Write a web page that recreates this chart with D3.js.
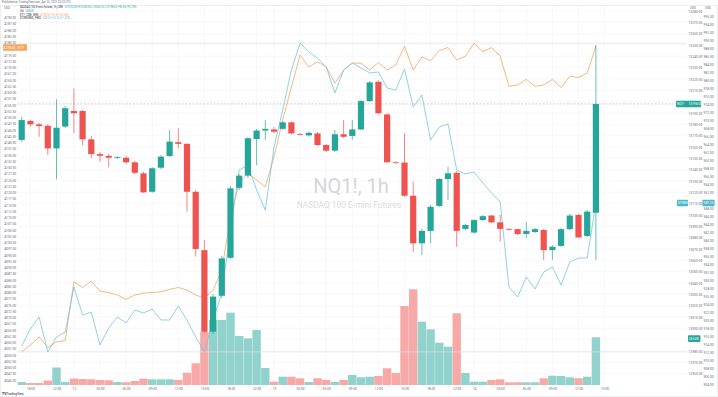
<!DOCTYPE html>
<html>
<head>
<meta charset="utf-8">
<title>NQ1!, 1h</title>
<script src="https://cdn.jsdelivr.net/npm/d3@7/dist/d3.min.js"></script>
<style>
  html, body { margin: 0; padding: 0; background: #fff; }
  svg { display: block; font-family: Roboto, "Open Sans", sans-serif; }
  .axis path { display: none; }
  .axis text { fill: #6b6e78; }
</style>
</head>
<body>
<svg id="chart" width="718" height="397"></svg>
<script>
// NQ1! hourly candles
var nqOpen = [13166.25, 13183, 13180, 13178.75, 13158.75, 13178, 13191.75, 13191.75, 13166.75, 13153.75,
    13152.25, 13150.75, 13150.5, 13146.5, 13136.75, 13120.5, 13141.75, 13152, 13164.25, 13162.75,
    13120.5, 13069, 12997, 13028.75, 13062.25, 13124, 13134.75, 13167, 13174.5, 13175.5,
    13176, 13181.75, 13171.5, 13170.25, 13172, 13161.75, 13156.75, 13171.25, 13169.75, 13175.5,
    13200.5, 13217.5, 13188.75, 13146.5, 13146.25, 13117, 13075, 13086, 13108, 13131.75,
    13137.25, 13087.75, 13084.5, 13095.5, 13099.5, 13093.5, 13087.75, 13087.5, 13083.25, 13085,
    13086.75, 13069, 13072.75, 13087.5, 13100, 13081.5, 13102];
var nqHigh = [13186.5, 13184, 13181.25, 13180.25, 13202, 13196.25, 13211.75, 13192.75, 13169.75, 13155.5,
    13153.75, 13152, 13152, 13147.75, 13138, 13142.25, 13153, 13175, 13176.5, 13163.5,
    13122, 13078, 13030.25, 13063.75, 13125.5, 13136.25, 13168.75, 13176, 13183.75, 13177.75,
    13183, 13182.5, 13172.25, 13173.75, 13173.25, 13162.75, 13175, 13183.75, 13183.75, 13201.5,
    13218.25, 13218.75, 13190, 13147.25, 13172.25, 13129.5, 13087.75, 13108.75, 13132.75, 13142.5,
    13138.75, 13092, 13096.5, 13100, 13100, 13100, 13088.5, 13088, 13094, 13088.5,
    13087.75, 13073.5, 13088.5, 13101, 13101, 13104.5, 13250];
var nqLow = [13164.5, 13177.75, 13169, 13153, 13131.5, 13176.75, 13172, 13161.75, 13150.25, 13147,
    13142, 13149.5, 13145, 13136.25, 13119.5, 13119.5, 13140.5, 13151.25, 13158.75, 13103,
    13063.25, 12996, 12995, 13026.75, 13061.25, 13122, 13132.75, 13144, 13166.25, 13172.25,
    13175, 13171, 13170.25, 13169.25, 13161, 13155.5, 13155.5, 13168, 13166.25, 13175,
    13199.75, 13189, 13146, 13145.5, 13116, 13067.5, 13064.75, 13075.25, 13107, 13113.25,
    13072, 13086.75, 13083.25, 13094.75, 13093, 13076.5, 13086.25, 13082.25, 13079.5, 13084,
    13060.25, 13060.25, 13071.75, 13086.75, 13079.75, 13080.5, 13060.25];
var nqClose = [13183.75, 13180, 13178.5, 13158.75, 13177, 13194.25, 13189.75, 13166.75, 13153.75, 13152.25,
    13150.5, 13151, 13146.5, 13137.25, 13120, 13141.25, 13151.5, 13164.75, 13162.75, 13120.5,
    13070, 12997, 13028, 13061.75, 13123.5, 13134.75, 13167.75, 13174.5, 13176, 13173.5,
    13181.75, 13172, 13171, 13172.5, 13161.75, 13156.75, 13171.25, 13169, 13175.5, 13200.5,
    13217, 13189.75, 13146.5, 13146.25, 13117, 13075, 13086, 13107.25, 13131.75, 13136.75,
    13086, 13091.25, 13095.5, 13099, 13093.5, 13087.75, 13087.5, 13083.25, 13086, 13087.5,
    13069, 13072, 13087.5, 13099.5, 13080.25, 13103, 13198];
var nqVolume = [1800, 1200, 1200, 2700, 10500, 1800, 3900, 3600, 3420, 3000,
    2820, 1800, 1620, 2400, 3780, 3420, 3420, 3420, 3000, 7380,
    13020, 31980, 39000, 39000, 43380, 29400, 28020, 33000, 10200, 1980,
    4980, 4980, 4020, 1800, 4020, 3000, 1800, 3000, 6000, 4620,
    4980, 5400, 10020, 7200, 47400, 57420, 37980, 33420, 25380, 22980,
    43020, 7200, 1980, 1980, 3000, 3420, 1620, 1620, 1620, 1620,
    4020, 5580, 5400, 4620, 4020, 4980, 28620];

// compared symbols
var esClose = [4056.25, 4059, 4062.25, 4058, 4060.25, 4060.75, 4084.25, 4082, 4084.5, 4080.5,
    4080, 4079, 4077.25, 4079, 4079.75, 4080, 4080.25, 4081.25, 4082, 4081,
    4079, 4077.75, 4081, 4089, 4110.25, 4123.75, 4127.75, 4125, 4122.25, 4134.25,
    4149, 4162.25, 4175, 4170.25, 4172.25, 4170.25, 4163.75, 4169, 4171.75, 4171.75,
    4169, 4172, 4169, 4171, 4178.5, 4169, 4174.25, 4172.75, 4176.75, 4178,
    4173, 4174.5, 4179.75, 4176.25, 4178, 4174.5, 4162.5, 4163, 4165.25, 4162.5,
    4163, 4165.25, 4162, 4166.5, 4166, 4167.75, 4178.5];
var dxClose = [913.5, 917.75, 920.75, 912, 915.75, 917, 928.25, 921.25, 922, 913.75,
    918, 920.75, 919.25, 922.5, 921.75, 922.75, 920, 920, 923.5, 920,
    915.75, 912, 920, 926.75, 942.5, 957.5, 958.75, 952.5, 947.5, 963.25,
    972.5, 982.5, 989.25, 987, 985.5, 983.25, 976.75, 982.5, 984.25, 983,
    981.75, 982, 978, 977.5, 982.75, 973.25, 976.25, 965, 968.25, 969,
    957.5, 956.5, 957, 954.25, 951.75, 949.5, 928.25, 925.75, 930.75, 927.75,
    932, 933.25, 928.75, 934.5, 935.5, 935.5, 949.25];

// time axis (bar index -> label)
var timeTickIdx = [1, 4, 6, 9, 12, 15, 18, 21, 24, 27, 29, 32, 35, 38, 41, 44, 47, 50, 52, 55, 58, 61, 64, 67];
var timeTickText = ["18:00", "22:00", "12", "03:00", "06:00", "09:00", "12:00", "15:00", "18:00", "22:00", "13",
    "03:00", "06:00", "09:00", "12:00", "15:00", "18:00", "22:00", "14", "03:00", "06:00", "09:00", "12:00", "15:00"];

// price scale ticks
var nqTicks = d3.range(12960, 13290, 10);
var esTicks = d3.range(4045, 4192.5, 2.5);
var dxTicks = d3.range(904, 998, 2);

var UP = "#26a69a", DOWN = "#ef5350";
var UP_VOL = "#92d2cc", DOWN_VOL = "#f7a9a7";
var ES_COL = "#f2a65e", DX_COL = "#74c6de", DX_TAG = "#4db6c9";

var plot = {left: 17.35, right: 687.25, top: 5.5, bottom: 385};
var svg = d3.select("#chart");

// scales
var x = d3.scaleLinear().domain([-0.5, 76.5]).range([plot.left, plot.right]);
var step = x(1) - x(0);
var yPrice = d3.scaleLinear().domain([12950, 13250]).range([385, 45]);
var yEs = d3.scaleLinear().domain([4100, 4200]).range([242.5, -7.5]);
var yDx = d3.scaleLinear().domain([900, 1000]).range([400, 0]);
var yVol = d3.scaleLinear().domain([0, 60000]).range([385, 285]);

var n = nqClose.length;
var last = n - 1;
var idx = d3.range(n);
var fmt2 = d3.format(".2f");

// where the value tags sit
var yLast = yPrice(nqClose[last]);
var yVolTag = yVol(nqVolume[last]) + 1.3;
var yEsTag = yEs(esClose[last]) + 1.3;
var yDxTag = yDx(dxClose[last]);

// frame
svg.append("rect").attr("x", 0.5).attr("y", 5.5).attr("width", 717).attr("height", 391)
    .attr("fill", "none").attr("stroke", "#e0e3eb").attr("stroke-width", 0.6);

svg.append("defs").append("clipPath").attr("id", "clip")
    .append("rect").attr("x", plot.left).attr("y", plot.top)
    .attr("width", plot.right - plot.left).attr("height", plot.bottom - plot.top);

var g = svg.append("g").attr("clip-path", "url(#clip)");

// grid
g.selectAll("line.hgrid").data(nqTicks).enter().append("line").attr("class", "hgrid")
    .attr("x1", plot.left).attr("x2", plot.right)
    .attr("y1", function(d){ return yPrice(d); }).attr("y2", function(d){ return yPrice(d); })
    .attr("stroke", "#f3f4f8").attr("stroke-width", 0.6);
g.selectAll("line.vgrid").data(timeTickIdx).enter().append("line").attr("class", "vgrid")
    .attr("x1", function(d){ return x(d); }).attr("x2", function(d){ return x(d); })
    .attr("y1", plot.top).attr("y2", plot.bottom)
    .attr("stroke", "#f3f4f8").attr("stroke-width", 0.6);

// volume bars
g.selectAll("rect.vol").data(idx).enter().append("rect").attr("class", "vol")
    .attr("x", function(i){ return x(i) - step / 2 + 0.15; })
    .attr("width", step - 0.3)
    .attr("y", function(i){ return yVol(nqVolume[i]); })
    .attr("height", function(i){ return yVol(0) - yVol(nqVolume[i]); })
    .attr("fill", function(i){ return nqClose[i] >= nqOpen[i] ? UP_VOL : DOWN_VOL; });

// high / low guides of the compared series
[d3.max(esClose), d3.min(esClose)].forEach(function(v){
    g.append("line").attr("x1", plot.left).attr("x2", plot.right)
        .attr("y1", yEs(v)).attr("y2", yEs(v))
        .attr("stroke", "#dfe1e7").attr("stroke-width", 0.7);
});

// compare lines
g.append("path").datum(esClose)
    .attr("d", d3.line().x(function(d, i){ return x(i); }).y(function(d){ return yEs(d); }))
    .attr("fill", "none").attr("stroke", ES_COL).attr("stroke-width", 0.8);
g.append("path").datum(dxClose)
    .attr("d", d3.line().x(function(d, i){ return x(i); }).y(function(d){ return yDx(d); }))
    .attr("fill", "none").attr("stroke", DX_COL).attr("stroke-width", 0.8);

// last price line
g.append("line").attr("x1", plot.left).attr("x2", plot.right)
    .attr("y1", yLast).attr("y2", yLast)
    .attr("stroke", "#a9acb5").attr("stroke-width", 0.6).attr("stroke-dasharray", "2,1.5");

// candles
var candle = g.selectAll("g.candle").data(idx).enter().append("g").attr("class", "candle");
candle.append("line")
    .attr("x1", function(i){ return x(i); }).attr("x2", function(i){ return x(i); })
    .attr("y1", function(i){ return yPrice(nqHigh[i]); })
    .attr("y2", function(i){ return yPrice(nqLow[i]); })
    .attr("stroke", function(i){ return nqClose[i] >= nqOpen[i] ? UP : DOWN; })
    .attr("stroke-width", 0.7);
candle.append("rect")
    .attr("x", function(i){ return x(i) - 3.1; }).attr("width", 6.2)
    .attr("y", function(i){ return yPrice(Math.max(nqOpen[i], nqClose[i])); })
    .attr("height", function(i){ return Math.max(0.8, Math.abs(yPrice(nqOpen[i]) - yPrice(nqClose[i]))); })
    .attr("fill", function(i){ return nqClose[i] >= nqOpen[i] ? UP : DOWN; });

// watermark
svg.append("text").attr("x", 351).attr("y", 193).attr("text-anchor", "middle")
    .attr("font-size", 20).attr("fill", "#d5d6da").text("NQ1!, 1h");
svg.append("text").attr("x", 349).attr("y", 208).attr("text-anchor", "middle")
    .attr("font-size", 8.4).attr("fill", "#dbdcdf").text("NASDAQ 100 E-mini Futures");

// axes (labels under a value tag are hidden, like the original)
function clear(scale, ys) {
    return function(t){
        return ys.every(function(y){ return Math.abs(scale(t) - y) > 4.2; });
    };
}
function styleAxis(sel) {
    sel.attr("font-size", 3.3).attr("font-family", null);
}
svg.append("g").attr("class", "axis").attr("transform", "translate(16.2,0)")
    .call(d3.axisLeft(yEs).tickValues(esTicks.filter(clear(yEs, [yEsTag])))
        .tickSize(0).tickPadding(0).tickFormat(fmt2))
    .call(styleAxis);
svg.append("g").attr("class", "axis").attr("transform", "translate(688.5,0)")
    .call(d3.axisRight(yPrice).tickValues(nqTicks.filter(clear(yPrice, [yLast, yVolTag])))
        .tickSize(0).tickPadding(0).tickFormat(fmt2))
    .call(styleAxis);
svg.append("g").attr("class", "axis").attr("transform", "translate(703.5,0)")
    .call(d3.axisRight(yDx).tickValues(dxTicks.filter(clear(yDx, [yDxTag])))
        .tickSize(0).tickPadding(0).tickFormat(fmt2))
    .call(styleAxis);
svg.append("g").attr("class", "axis").attr("transform", "translate(0,386)")
    .call(d3.axisBottom(x).tickValues(timeTickIdx).tickSize(0).tickPadding(1.2)
        .tickFormat(function(d, i){ return timeTickText[i]; }))
    .call(styleAxis);

// scale headers
[[4, "USD"], [690, "USD"], [705, "USD"]].forEach(function(h){
    svg.append("text").attr("x", h[0]).attr("y", 8.6).attr("font-size", 3.1)
        .attr("fill", "#6b6e78").text(h[1]);
});

// value tags
function tag(x0, w, yc, fill, parts) {
    svg.append("rect").attr("x", x0).attr("y", yc - 3.3).attr("width", w).attr("height", 6.6)
        .attr("rx", 0.8).attr("fill", fill);
    parts.forEach(function(p){
        svg.append("text").attr("x", p[0]).attr("y", yc).attr("dy", "0.35em")
            .attr("font-size", 3.2).attr("fill", "#fff").text(p[1]);
    });
}
tag(676, 25, yLast, UP, [[677, "NQ1!"], [688.5, fmt2(nqClose[last])]]);
tag(677, 11, yDxTag, DX_TAG, [[678, "DTWEX"]]);
tag(702.5, 12, yDxTag, DX_TAG, [[703.5, fmt2(dxClose[last])]]);
tag(688, 12.5, yVolTag, UP, [[688.8, d3.format(".2f")(nqVolume[last] / 1000) + "K"]]);
tag(3, 24, yEsTag, ES_COL, [[3.6, fmt2(esClose[last])], [17.5, "ET1!"]]);

// header / legend
svg.append("text").attr("x", 2).attr("y", 3.4).attr("font-size", 2.8).attr("fill", "#6a6d78")
    .text("Published on TradingView.com, Apr 15, 2023 02:23 UTC");

function chg(arr) {
    var a = arr[arr.length - 1], b = arr[arr.length - 2];
    var d = a - b;
    return (d >= 0 ? "+" : "") + fmt2(d) + " (" + (d >= 0 ? "+" : "") + fmt2(d / b * 100) + "%)";
}
var legend = [
    {y: 8.3, name: "NASDAQ 100 E-mini Futures, 1h, CME", color: UP,
        val: "O" + fmt2(nqOpen[last]) + " H" + fmt2(nqHigh[last]) + " L" + fmt2(nqLow[last]) +
            " C" + fmt2(nqClose[last]) + " " + chg(nqClose)},
    {y: 11.8, name: "Vol", color: UP, val: d3.format(".2f")(nqVolume[last] / 1000) + "K"},
    {y: 15.6, name: "ET1!, CME_MINI", color: ES_COL, val: fmt2(esClose[last]) + " " + chg(esClose)},
    {y: 19.4, name: "DTWEXBGS, FRED", color: "#5bbad4", val: fmt2(dxClose[last]) + " " + chg(dxClose)}
];
legend.forEach(function(l){
    var t = svg.append("text").attr("x", 20).attr("y", l.y).attr("font-size", 2.6)
        .attr("fill", "#2a2e39").text(l.name);
    var w = t.node().getComputedTextLength();
    svg.append("text").attr("x", 20 + w + 1.8).attr("y", l.y).attr("font-size", 2.6)
        .attr("fill", l.color).text(l.val);
});

// footer logo
svg.append("text").attr("x", 2).attr("y", 395.2).attr("font-size", 3.4).attr("font-weight", 700)
    .attr("fill", "#131722").text("TV");
svg.append("text").attr("x", 6.6).attr("y", 395.2).attr("font-size", 3.1)
    .attr("fill", "#131722").text("TradingView");
</script>
</body>
</html>
